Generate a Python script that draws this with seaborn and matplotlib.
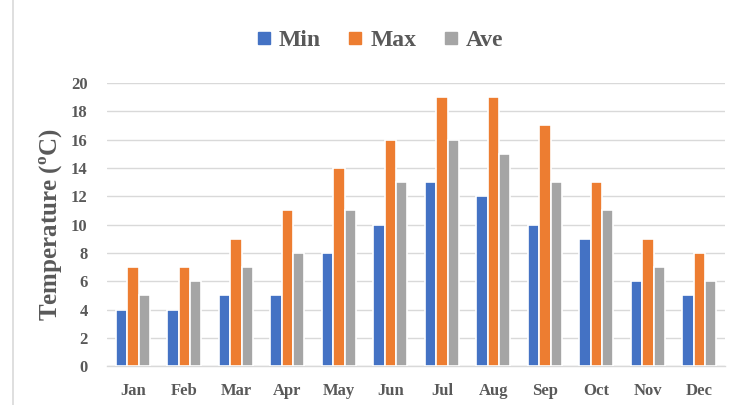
import matplotlib
matplotlib.use("Agg")
import matplotlib.pyplot as plt
import pandas as pd
import seaborn as sns
from matplotlib.lines import Line2D

MONTHS = ["Jan", "Feb", "Mar", "Apr", "May", "Jun",
          "Jul", "Aug", "Sep", "Oct", "Nov", "Dec"]
MIN_TEMP = [4, 4, 5, 5, 8, 10, 13, 12, 10, 9, 6, 5]
MAX_TEMP = [7, 7, 9, 11, 14, 16, 19, 19, 17, 13, 9, 8]
AVE_TEMP = [5, 6, 7, 8, 11, 13, 16, 15, 13, 11, 7, 6]
SERIES = ["Min", "Max", "Ave"]
COLORS = ["#4472C4", "#ED7D31", "#A5A5A5"]
YTICKS = list(range(0, 21, 2))

sns.set_style("white")
plt.rcParams["font.family"] = ["Liberation Serif", "DejaVu Serif"]
plt.rcParams["mathtext.fontset"] = "custom"
plt.rcParams["mathtext.rm"] = "Liberation Serif:bold"
plt.rcParams["mathtext.bf"] = "Liberation Serif:bold"

TEXT = "#595959"

df = pd.DataFrame({
    "month": MONTHS * 3,
    "series": [s for s in SERIES for _ in MONTHS],
    "temp": MIN_TEMP + MAX_TEMP + AVE_TEMP,
})

fig = plt.figure(figsize=(7.34, 4.05), dpi=100)
ax = fig.add_axes([0.146, 0.096, 0.842, 0.699])

sns.barplot(
    data=df, x="month", y="temp", hue="series",
    order=MONTHS, hue_order=SERIES, palette=COLORS, saturation=1,
    width=0.66, edgecolor="white", linewidth=1.2,
    ax=ax, legend=False, zorder=3,
)

ax.set_ylim(0, 20)
ax.set_xlim(-0.5, len(MONTHS) - 0.5)
ax.set_yticks(YTICKS)
ax.yaxis.grid(True, color="#D9D9D9", linewidth=1, zorder=0)
ax.set_axisbelow(True)
for side in ["top", "right", "left"]:
    ax.spines[side].set_visible(False)
ax.spines["bottom"].set_color("#D9D9D9")
ax.spines["bottom"].set_linewidth(1)
ax.tick_params(axis="both", length=0, labelsize=12, labelcolor=TEXT)
ax.tick_params(axis="x", pad=12)
ax.tick_params(axis="y", pad=14)
for lbl in ax.get_xticklabels() + ax.get_yticklabels():
    lbl.set_fontweight("bold")

ax.set_xlabel("")
ax.set_ylabel(r"Temperature ($^{\mathrm{o}}$C)", fontsize=18,
              fontweight="bold", color=TEXT, labelpad=4)

handles = [Line2D([0], [0], marker="s", linestyle="none", markersize=9,
                  markerfacecolor=c, markeredgecolor=c) for c in COLORS]
leg = fig.legend(handles, SERIES, loc="center", bbox_to_anchor=(0.517, 0.9),
                 ncol=3, frameon=False, handlelength=0.7, handletextpad=0.3,
                 columnspacing=1.1, prop={"weight": "bold", "size": 17})
for t in leg.get_texts():
    t.set_color(TEXT)

fig.add_artist(Line2D([0.018, 0.018], [0.0, 1.0], color="#D9D9D9",
                      linewidth=1.2, transform=fig.transFigure))

fig.savefig("out.png", dpi=100)
